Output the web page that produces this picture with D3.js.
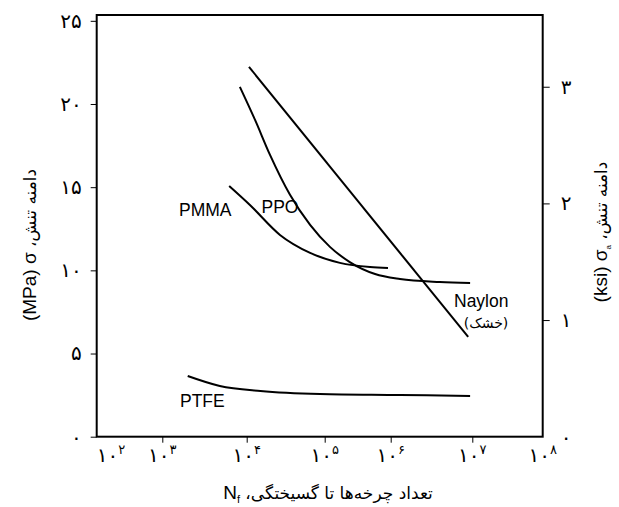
<!DOCTYPE html>
<html>
<head>
<meta charset="utf-8">
<script src="https://cdn.jsdelivr.net/npm/d3@7"></script>
<style>
  html, body { margin: 0; padding: 0; background: #fff; }
  svg { display: block; }
</style>
</head>
<body>
<svg id="chart" width="619" height="507"></svg>
<script>
// ---------- data ----------
const xExponents = [2, 3, 4, 5, 6, 7, 8];
const xTickBase = "۱۰";
const xTickExp = ["۲", "۳", "۴", "۵", "۶", "۷", "۸"];

const yTicksMPa = [0, 5, 10, 15, 20, 25];
const yTickLabelsMPa = ["۰", "۵", "۱۰", "۱۵", "۲۰", "۲۵"];

const yTicksKsi = [0, 1, 2, 3];
const yTickLabelsKsi = ["۰", "۱", "۲", "۳"];

// cycles to failure (N) and stress amplitude (MPa)
const nylonN = [10700, 8.9e6];
const nylonS = [22.23, 6.0];

const ppoN = [8300, 12800, 19900, 35900, 65000, 120000, 240000, 580000, 1.3e6, 4.0e6, 9.4e6];
const ppoS = [21.03, 19.04, 16.94, 14.54, 12.73, 11.41, 10.5, 9.78, 9.48, 9.3, 9.24];

const pmmaN = [6200, 11000, 26700, 65000, 170000, 485000, 910000];
const pmmaS = [15.07, 13.93, 12.13, 11.05, 10.45, 10.2, 10.14];

const ptfeN = [2000, 4800, 15000, 87000, 1.3e6, 9.4e6];
const ptfeS = [3.65, 3.05, 2.75, 2.57, 2.51, 2.45];

const seriesNames = ["Naylon", "PPO", "PMMA", "PTFE"];

// ---------- layout ----------
const pL = 96.7, pR = 542.7, pT = 15, pB = 436.7;
// the printed decade ticks are not evenly spaced; map exponent -> position piecewise
const xTickPos = [96.7, 162.3, 246.7, 324.7, 390.7, 472.3, 542.7];

const x = d3.scaleLinear().domain(xExponents).range(xTickPos);
const y = d3.scaleLinear().domain([0, 25.35]).range([pB, pT]);
const yK = d3.scaleLinear().domain([0, 3.615]).range([pB, pT]);

const svg = d3.select("#chart");

const line = d3.line()
  .x(d => x(Math.log10(d[0])))
  .y(d => y(d[1]))
  .curve(d3.curveMonotoneX);

const zip = (a, b) => a.map((v, i) => [v, b[i]]);

// ---------- axes ----------
const gL = svg.append("g").attr("transform", `translate(${pL},0)`)
  .call(d3.axisLeft(y).tickValues(yTicksMPa).tickSize(6).tickPadding(9)
    .tickFormat((d, i) => yTickLabelsMPa[i]));
gL.select(".domain").remove();
gL.selectAll(".tick line").attr("stroke", "#000").attr("stroke-width", 1);
gL.selectAll(".tick text").attr("font-size", 20).attr("fill", "#000")
  .attr("font-family", "DejaVu Sans");

const gR = svg.append("g").attr("transform", `translate(${pR},0)`)
  .call(d3.axisRight(yK).tickValues(yTicksKsi).tickSize(7).tickPadding(11)
    .tickFormat((d, i) => yTickLabelsKsi[i]));
gR.select(".domain").remove();
gR.selectAll(".tick line").attr("stroke", "#000").attr("stroke-width", 1)
  .filter(d => d === 0).remove();
gR.selectAll(".tick text").attr("font-size", 20).attr("fill", "#000")
  .attr("font-family", "DejaVu Sans");

const gB = svg.append("g").attr("transform", `translate(0,${pB})`)
  .call(d3.axisBottom(x).tickValues(xExponents).tickSize(6).tickFormat(""));
gB.select(".domain").remove();
gB.selectAll(".tick line").attr("stroke", "#000").attr("stroke-width", 1)
  .filter(d => d === 2 || d === 8).remove();

// bottom tick labels: ۱۰ with superscript exponent
xExponents.forEach((e, i) => {
  const t = svg.append("text")
    .attr("x", x(e))
    .attr("y", 462)
    .attr("text-anchor", i === 0 ? "start" : "middle")
    .attr("direction", "ltr")
    .attr("font-family", "DejaVu Sans")
    .attr("font-size", 20)
    .attr("fill", "#000");
  t.append("tspan").text(xTickBase);
  t.append("tspan").attr("font-size", 13).attr("dy", -8).text(xTickExp[i]);
});

// frame
svg.append("rect")
  .attr("x", pL).attr("y", pT)
  .attr("width", pR - pL).attr("height", pB - pT)
  .attr("fill", "none").attr("stroke", "#000").attr("stroke-width", 2);

// ---------- curves ----------
[[nylonN, nylonS], [ppoN, ppoS], [pmmaN, pmmaS], [ptfeN, ptfeS]].forEach(([n, s]) => {
  svg.append("path")
    .attr("d", line(zip(n, s)))
    .attr("fill", "none")
    .attr("stroke", "#000")
    .attr("stroke-width", 2);
});

// ---------- series labels ----------
const lab = (txt, px, py, anchor, size, fam) => svg.append("text")
  .attr("x", px).attr("y", py).attr("text-anchor", anchor || "start")
  .attr("font-family", fam || "Liberation Sans, Arial, sans-serif")
  .attr("font-size", size || 17.5).attr("fill", "#000").text(txt);

lab(seriesNames[2], 179, 216);
lab(seriesNames[1], 261.5, 212.7);
lab(seriesNames[0], 454, 307);
lab("(خشک)", 486, 328, "middle", 14, "DejaVu Sans");
lab(seriesNames[3], 180, 406.7);

// ---------- axis titles ----------
// bottom
const tb = svg.append("text")
  .attr("x", 328).attr("y", 499)
  .attr("text-anchor", "middle").attr("direction", "ltr")
  .attr("font-family", "DejaVu Sans").attr("font-size", 17).attr("fill", "#000");
tb.append("tspan").attr("font-family", "Liberation Sans, Arial").attr("font-size", 19).text("N");
tb.append("tspan").attr("font-family", "Liberation Sans, Arial").attr("font-size", 11).attr("dy", 4).text("f");
tb.append("tspan").attr("dy", -4).text(" ،تعداد چرخه\u200Cها تا گسیختگی");

// left
const tl = svg.append("text")
  .attr("transform", "translate(36,245) rotate(-90)")
  .attr("text-anchor", "middle").attr("direction", "ltr")
  .attr("font-family", "DejaVu Sans").attr("font-size", 17).attr("fill", "#000");
tl.append("tspan").attr("font-family", "Liberation Sans, Arial").attr("font-size", 19).text("(MPa) σ");
tl.append("tspan").text(" ،دامنه تنش");

// right
const tr = svg.append("text")
  .attr("transform", "translate(607,232) rotate(-90)")
  .attr("text-anchor", "middle").attr("direction", "ltr")
  .attr("font-family", "DejaVu Sans").attr("font-size", 17).attr("fill", "#000");
tr.append("tspan").attr("font-family", "Liberation Sans, Arial").attr("font-size", 19).text("(ksi) σ");
tr.append("tspan").attr("font-family", "Liberation Sans, Arial").attr("font-size", 8).attr("dy", 4).text("a");
tr.append("tspan").attr("dy", -4).text(" ،دامنه تنش");
</script>
</body>
</html>
